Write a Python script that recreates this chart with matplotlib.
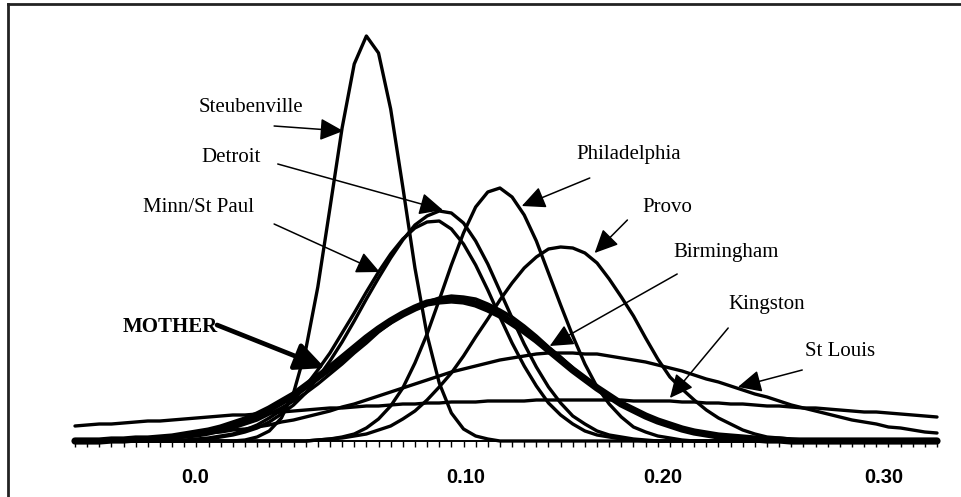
import matplotlib
matplotlib.use("Agg")
import matplotlib.pyplot as plt
from matplotlib.lines import Line2D

plt.rcParams["font.family"] = ["Liberation Serif", "DejaVu Serif"]

# horizontal axis: 72 categories (bins), labels sit on a few of them
bins = list(range(72))
tick_pos = [9.9, 32.2, 48.4, 66.6]
tick_labels = ["0.0", "0.10", "0.20", "0.30"]

steubenville = [
    0, 0, 0, 0, 0, 0, 0, 0, 0, 0, 0, 0,
    0, 0, 0.1, 0.4, 1.0, 2.3, 4.8, 9.1, 15.4, 23.3, 31.3, 37.7,
    40.5, 38.8, 33.2, 25.4, 17.3, 10.6, 5.8, 2.8, 1.2, 0.5, 0.2, 0,
    0, 0, 0, 0, 0, 0, 0, 0, 0, 0, 0, 0,
    0, 0, 0, 0, 0, 0, 0, 0, 0, 0, 0, 0,
    0, 0, 0, 0, 0, 0, 0, 0, 0, 0, 0, 0,
]
detroit = [
    0, 0, 0, 0, 0, 0, 0, 0, 0, 0, 0.1, 0.2,
    0.4, 0.6, 0.9, 1.3, 1.9, 2.7, 3.6, 4.8, 6.3, 8.0, 9.9, 12.0,
    14.2, 16.3, 18.3, 20.1, 21.6, 22.5, 23.0, 22.8, 21.8, 20.0, 17.7, 15.0,
    12.3, 9.7, 7.4, 5.4, 3.8, 2.5, 1.7, 1.0, 0.6, 0.4, 0.2, 0.1,
    0, 0, 0, 0, 0, 0, 0, 0, 0, 0, 0, 0,
    0, 0, 0, 0, 0, 0, 0, 0, 0, 0, 0, 0,
]
minn_st_paul = [
    0, 0, 0, 0, 0, 0, 0, 0, 0, 0.1, 0.2, 0.3,
    0.5, 0.7, 1.1, 1.6, 2.3, 3.1, 4.2, 5.5, 7.1, 8.8, 10.8, 12.8,
    14.9, 16.9, 18.7, 20.2, 21.3, 21.9, 22.0, 21.2, 19.7, 17.6, 15.1, 12.4,
    9.8, 7.5, 5.5, 3.8, 2.6, 1.7, 1.0, 0.6, 0.4, 0.2, 0.1, 0,
    0, 0, 0, 0, 0, 0, 0, 0, 0, 0, 0, 0,
    0, 0, 0, 0, 0, 0, 0, 0, 0, 0, 0, 0,
]
philadelphia = [
    0, 0, 0, 0, 0, 0, 0, 0, 0, 0, 0, 0,
    0, 0, 0, 0, 0, 0, 0, 0, 0.1, 0.2, 0.4, 0.7,
    1.3, 2.2, 3.5, 5.3, 7.8, 10.7, 14.1, 17.6, 20.8, 23.4, 24.9, 25.3,
    24.4, 22.6, 20.0, 16.8, 13.6, 10.5, 7.7, 5.4, 3.7, 2.4, 1.4, 0.9,
    0.5, 0.3, 0.1, 0, 0, 0, 0, 0, 0, 0, 0, 0,
    0, 0, 0, 0, 0, 0, 0, 0, 0, 0, 0, 0,
]
provo = [
    0, 0, 0, 0, 0, 0, 0, 0, 0, 0, 0, 0,
    0, 0, 0, 0, 0, 0, 0, 0, 0.1, 0.2, 0.3, 0.5,
    0.7, 1.1, 1.5, 2.2, 3.0, 4.1, 5.4, 6.8, 8.5, 10.4, 12.2, 14.1,
    15.8, 17.3, 18.4, 19.2, 19.4, 19.3, 18.8, 17.8, 16.2, 14.4, 12.5, 10.3,
    8.2, 6.4, 5.2, 4.1, 3.1, 2.3, 1.7, 1.1, 0.7, 0.4, 0.3, 0.2,
    0.1, 0, 0, 0, 0, 0, 0, 0, 0, 0, 0, 0,
]
birmingham = [
    0, 0, 0, 0, 0.1, 0.1, 0.2, 0.2, 0.3, 0.4, 0.5, 0.7,
    1.0, 1.3, 1.7, 2.1, 2.7, 3.3, 4.0, 4.8, 5.7, 6.7, 7.7, 8.8,
    9.8, 10.9, 11.8, 12.7, 13.4, 13.9, 14.3, 14.5, 14.4, 14.2, 13.7, 13.1,
    12.4, 11.5, 10.5, 9.4, 8.4, 7.3, 6.3, 5.4, 4.5, 3.7, 3.0, 2.4,
    1.9, 1.5, 1.1, 0.9, 0.6, 0.5, 0.3, 0.2, 0.2, 0.1, 0, 0,
    0, 0, 0, 0, 0, 0, 0, 0, 0, 0, 0, 0,
]
kingston = [
    1.5, 1.6, 1.7, 1.7, 1.8, 1.9, 2.0, 2.0, 2.1, 2.2, 2.3, 2.4,
    2.5, 2.6, 2.6, 2.7, 2.8, 2.9, 3.0, 3.1, 3.2, 3.3, 3.3, 3.4,
    3.5, 3.5, 3.6, 3.7, 3.7, 3.8, 3.8, 3.9, 3.9, 3.9, 4.0, 4.0,
    4.0, 4.0, 4.1, 4.1, 4.1, 4.1, 4.1, 4.1, 4.1, 4.1, 4.0, 4.0,
    4.0, 4.0, 3.9, 3.9, 3.8, 3.8, 3.7, 3.7, 3.6, 3.5, 3.5, 3.4,
    3.3, 3.3, 3.2, 3.1, 3.0, 2.9, 2.9, 2.8, 2.7, 2.6, 2.5, 2.4,
]
st_louis = [
    0.1, 0.1, 0.1, 0.2, 0.2, 0.3, 0.3, 0.4, 0.5, 0.5, 0.6, 0.8,
    0.9, 1.1, 1.2, 1.4, 1.6, 1.9, 2.1, 2.4, 2.7, 3.0, 3.4, 3.7,
    4.1, 4.5, 4.9, 5.3, 5.7, 6.1, 6.5, 6.9, 7.2, 7.5, 7.8, 8.1,
    8.3, 8.5, 8.7, 8.8, 8.8, 8.8, 8.7, 8.7, 8.5, 8.3, 8.1, 7.9,
    7.6, 7.3, 7.0, 6.6, 6.2, 5.9, 5.5, 5.1, 4.7, 4.4, 4.0, 3.6,
    3.3, 3.0, 2.7, 2.4, 2.1, 1.9, 1.7, 1.4, 1.3, 1.1, 0.9, 0.8,
]
mother = [
    0, 0, 0, 0.1, 0.1, 0.2, 0.2, 0.3, 0.4, 0.6, 0.8, 1.0,
    1.3, 1.7, 2.1, 2.6, 3.2, 3.9, 4.6, 5.5, 6.4, 7.3, 8.3, 9.3,
    10.3, 11.2, 12.0, 12.7, 13.3, 13.8, 14.0, 14.1, 14.0, 13.7, 13.2, 12.6,
    11.8, 11.0, 10.1, 9.1, 8.1, 7.1, 6.2, 5.3, 4.5, 3.7, 3.1, 2.5,
    2.0, 1.6, 1.2, 0.9, 0.7, 0.5, 0.4, 0.3, 0.2, 0.1, 0.1, 0,
    0, 0, 0, 0, 0, 0, 0, 0, 0, 0, 0, 0,
]

thin_curves = [steubenville, detroit, minn_st_paul, philadelphia, provo,
               birmingham, kingston, st_louis]

# label text, text anchor, arrow tail, arrow tip (bin, height)
labels = [
    ("Steubenville", (10.2, 33.4), (16.4, 31.5), (22.1, 31.0)),
    ("Detroit", (10.4, 28.4), (16.7, 27.7), (30.3, 23.1)),
    ("Minn/St Paul", (5.6, 23.4), (16.4, 21.7), (25.1, 16.9)),
    ("Philadelphia", (41.3, 28.7), (42.4, 26.3), (36.8, 23.5)),
    ("Provo", (46.7, 23.4), (45.5, 22.1), (42.8, 18.8)),
    ("Birmingham", (49.3, 18.9), (49.6, 16.7), (39.1, 9.5)),
    ("Kingston", (53.8, 13.6), (53.8, 11.3), (49.0, 4.3)),
    ("St Louis", (60.1, 8.9), (59.9, 7.1), (54.6, 5.4)),
]

fig = plt.figure(figsize=(9.62, 4.97), dpi=100)
fig.patch.set_facecolor("white")
ax = fig.add_axes([75 / 962, 56 / 497, 862 / 962, 421 / 497])
ax.set_xlim(0, 71)
ax.set_ylim(0, 42.1)

for vals in thin_curves:
    ax.plot(bins, vals, color="black", lw=2.4, solid_joinstyle="round",
            solid_capstyle="round", clip_on=False, zorder=3)
ax.plot(bins, mother, color="black", lw=5.2, solid_joinstyle="round",
        solid_capstyle="round", clip_on=False, zorder=4)

for spine in ["top", "right", "left"]:
    ax.spines[spine].set_visible(False)
ax.spines["bottom"].set_linewidth(1.4)
ax.spines["bottom"].set_color("black")
ax.set_yticks([])
ax.set_xticks(bins, minor=True)
ax.set_xticks(tick_pos, tick_labels)
ax.tick_params(which="minor", length=4.0, width=1.0, color="black", direction="out")
ax.tick_params(which="major", length=0, pad=19.5, labelsize=14.5)
for lbl in ax.get_xticklabels():
    lbl.set_fontfamily(["Liberation Sans", "DejaVu Sans"])
    lbl.set_fontweight("bold")

for text, tpos, tail, tip in labels:
    ax.annotate("", xy=tip, xytext=tail,
                arrowprops=dict(arrowstyle="-|>,head_length=0.72,head_width=0.34",
                                mutation_scale=20, color="black", lw=1.1,
                                shrinkA=0, shrinkB=0), zorder=5)
    ax.text(tpos[0], tpos[1], text, fontsize=15, ha="left", va="center", color="black")

ax.annotate("", xy=(20.6, 7.3), xytext=(11.7, 11.6),
            arrowprops=dict(arrowstyle="-|>,head_length=0.9,head_width=0.42",
                            mutation_scale=20, color="black", lw=3.4,
                            shrinkA=0, shrinkB=0), zorder=5)
ax.text(3.9, 11.4, "MOTHER", fontsize=15, fontweight="bold", ha="left", va="center")

# outer border (cut by the image edges on the right and bottom)
fig.add_artist(Line2D([8 / 962, 8 / 962], [0, 493 / 497], transform=fig.transFigure,
                      color="#222222", lw=2))
fig.add_artist(Line2D([8 / 962, 1], [493 / 497, 493 / 497], transform=fig.transFigure,
                      color="#222222", lw=2))

fig.savefig("out.png", dpi=100, facecolor="white")
